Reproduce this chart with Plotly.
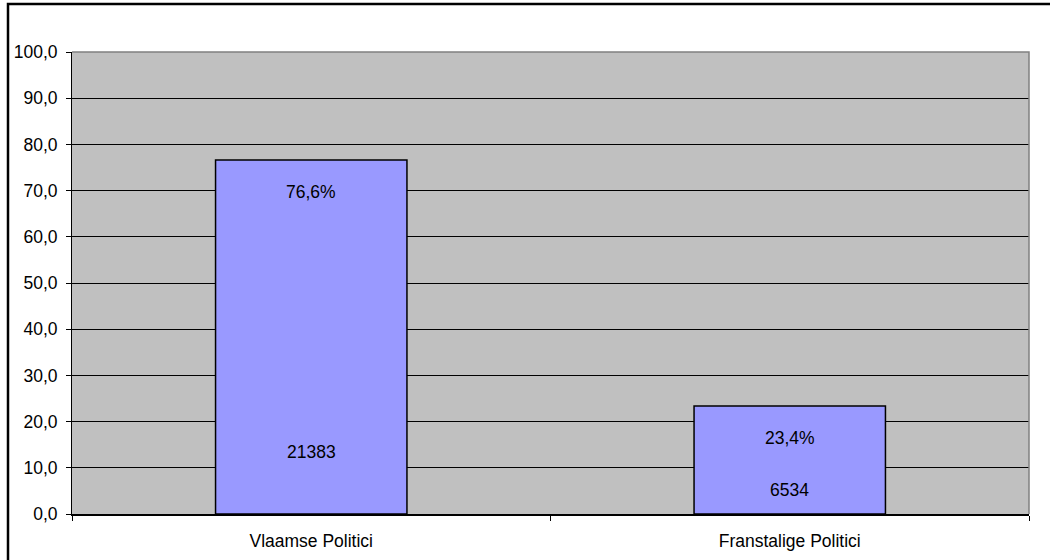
import plotly.graph_objects as go

categories = ["Vlaamse Politici", "Franstalige Politici"]
percentages = [76.6, 23.4]
counts = [21383, 6534]
pct_labels = ["76,6%", "23,4%"]
count_label_heights = [13.4, 5.2]
tick_values = [0, 10, 20, 30, 40, 50, 60, 70, 80, 90, 100]

W, H = 1050, 560
ml, mr, mt, mb = 72, 21, 52, 46
pw, ph = W - ml - mr, H - mt - mb

font = dict(family="Liberation Sans, Arial, sans-serif", size=17.5, color="black")

fig = go.Figure()
fig.add_trace(go.Bar(
    x=categories, y=percentages, width=0.4,
    marker=dict(color="#9999FF", line=dict(color="black", width=1.5)),
    hoverinfo="skip",
))

annotations = []
for c, p, lab in zip(categories, percentages, pct_labels):
    annotations.append(dict(x=c, y=p - 7, text=lab, showarrow=False, font=font,
                            xref="x", yref="y"))
for c, n, h in zip(categories, counts, count_label_heights):
    annotations.append(dict(x=c, y=h, text=str(n), showarrow=False, font=font,
                            xref="x", yref="y"))

fig.update_layout(
    width=W, height=H,
    margin=dict(l=ml, r=mr, t=mt, b=mb, autoexpand=False),
    paper_bgcolor="white", plot_bgcolor="#C0C0C0",
    separators=",.",
    showlegend=False,
    font=font,
    annotations=annotations,
    shapes=[
        dict(type="path", xref="paper", yref="paper",
             path="M 0,1 L 1,1 L 1,0", line=dict(color="#808080", width=1.5)),
        dict(type="rect", xref="paper", yref="paper",
             x0=(8 - ml) / pw, x1=(W + 5 - ml) / pw,
             y0=-(H + 5 - mt - ph) / ph, y1=1 + (mt - 4) / ph,
             line=dict(color="black", width=2.5)),
    ],
)
fig.update_yaxes(
    range=[0, 100], tickvals=tick_values, tickformat=".1f",
    showgrid=True, gridcolor="black", gridwidth=1,
    ticks="outside", ticklen=5, tickcolor="black",
    showline=True, linecolor="black", linewidth=1,
    zeroline=False, tickfont=font, fixedrange=True,
    ticklabelstandoff=5, automargin=False,
)
fig.update_xaxes(
    type="category", tickson="boundaries",
    ticks="outside", ticklen=5, tickcolor="black",
    showline=True, linecolor="black", linewidth=1.5,
    showgrid=False, tickfont=font, fixedrange=True,
    ticklabelstandoff=10, automargin=False,
)

fig.write_html("out.html", config={"displayModeBar": False},
               post_script="document.body.style.margin='0';")
